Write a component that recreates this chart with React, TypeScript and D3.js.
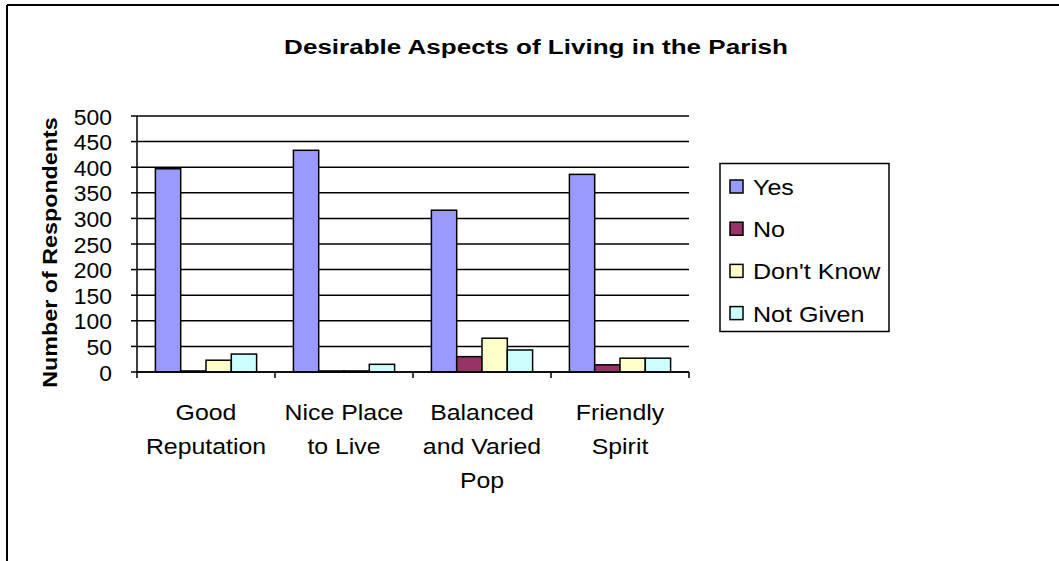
import React from "react";
import * as d3 from "d3";

const categories: string[][] = [
  ["Good", "Reputation"],
  ["Nice Place", "to Live"],
  ["Balanced", "and Varied", "Pop"],
  ["Friendly", "Spirit"],
];
const seriesNames = ["Yes", "No", "Don't Know", "Not Given"];
const yesValues = [397, 433, 316, 386];
const noValues = [2, 2, 30, 14];
const dontKnowValues = [23, 2, 66, 27];
const notGivenValues = [35, 15, 43, 27];
const yTicks = [0, 50, 100, 150, 200, 250, 300, 350, 400, 450, 500];
const seriesColors = ["#9999FF", "#993366", "#FFFFCC", "#CCFFFF"];

const title = "Desirable Aspects of Living in the Parish";
const yTitle = "Number of Respondents";

const W = 1059;
const H = 561;
const FONT = "'Liberation Sans', Arial, sans-serif";

function SText(props: {
  x: number;
  y: number;
  sx: number;
  anchor?: string;
  size: number;
  bold?: boolean;
  rotate?: number;
  children: React.ReactNode;
}) {
  const { x, y, sx, anchor = "start", size, bold, rotate = 0, children } = props;
  return (
    <g transform={`translate(${x},${y}) rotate(${rotate}) scale(${sx},1)`}>
      <text x={0} y={0} textAnchor={anchor} fontSize={size} fontWeight={bold ? "bold" : "normal"}>
        {children}
      </text>
    </g>
  );
}

export default function App() {
  const series = [yesValues, noValues, dontKnowValues, notGivenValues];
  const plotLeft = 137;
  const plotRight = 689;
  const plotTop = 116;
  const plotBottom = 372;

  const catKeys = categories.map((_, i) => String(i));
  const x0 = d3.scaleBand<string>().domain(catKeys).range([plotLeft, plotRight]).paddingInner(0).paddingOuter(0);
  const x1 = d3
    .scaleBand<string>()
    .domain(seriesNames)
    .range([0, x0.bandwidth()])
    .paddingInner(0)
    .paddingOuter(0.727);
  const y = d3.scaleLinear().domain([0, 500]).range([plotBottom, plotTop]);

  const boundaries = [...catKeys.map((k) => x0(k)!), plotRight];

  return (
    <svg
      width={W}
      height={H}
      style={{ position: "absolute", left: 0, top: 0, background: "#fff" }}
      fontFamily={FONT}
    >
      <rect x={0} y={0} width={W} height={H} fill="#fff" />
      {/* outer border */}
      <line x1={7} y1={5} x2={W} y2={5} stroke="#000" strokeWidth={2} />
      <line x1={7} y1={5} x2={7} y2={H} stroke="#000" strokeWidth={2} />

      {/* title */}
      <SText x={536} y={54} sx={1.24} anchor="middle" size={21} bold>
        {title}
      </SText>

      {/* gridlines */}
      {yTicks.map((t) => (
        <line key={"g" + t} x1={plotLeft} x2={plotRight} y1={y(t)} y2={y(t)} stroke="#000" strokeWidth={1.5} />
      ))}

      {/* bars */}
      {catKeys.map((k, ci) => (
        <g key={"c" + k} transform={`translate(${x0(k)},0)`}>
          {seriesNames.map((s, si) => {
            const v = series[si][ci];
            return (
              <rect
                key={s}
                x={x1(s)!}
                y={y(v)}
                width={x1.bandwidth()}
                height={plotBottom - y(v)}
                fill={seriesColors[si]}
                stroke="#000"
                strokeWidth={1.5}
              />
            );
          })}
        </g>
      ))}

      {/* y axis */}
      <line x1={plotLeft} x2={plotLeft} y1={plotTop} y2={plotBottom} stroke="#000" strokeWidth={1.5} />
      {yTicks.map((t) => (
        <g key={"t" + t}>
          <line x1={plotLeft - 6} x2={plotLeft} y1={y(t)} y2={y(t)} stroke="#000" strokeWidth={1.5} />
          <SText x={112} y={y(t) + 8.5} sx={1.04} anchor="end" size={22}>
            {t}
          </SText>
        </g>
      ))}

      {/* x axis */}
      <line x1={plotLeft} x2={plotRight} y1={plotBottom} y2={plotBottom} stroke="#000" strokeWidth={1.5} />
      {boundaries.map((b, i) => (
        <line key={"xt" + i} x1={b} x2={b} y1={plotBottom} y2={plotBottom + 6} stroke="#000" strokeWidth={1.5} />
      ))}
      {catKeys.map((k, ci) =>
        categories[ci].map((line, li) => (
          <SText
            key={"cl" + k + "-" + li}
            x={x0(k)! + x0.bandwidth() / 2}
            y={plotBottom + 48 + li * 34}
            sx={1.13}
            anchor="middle"
            size={22}
          >
            {line}
          </SText>
        ))
      )}

      {/* y title */}
      <SText x={57} y={252.5} sx={1.11} anchor="middle" size={21} bold rotate={-90}>
        {yTitle}
      </SText>

      {/* legend */}
      <rect x={720} y={163.5} width={169} height={168} fill="#fff" stroke="#000" strokeWidth={1.5} />
      {seriesNames.map((s, si) => {
        const base = 195 + si * 42.2;
        return (
          <g key={"l" + s}>
            <rect x={730} y={base - 15} width={13} height={13} fill={seriesColors[si]} stroke="#000" strokeWidth={1.5} />
            <SText x={753} y={base} sx={1.14} size={22}>
              {s}
            </SText>
          </g>
        );
      })}
    </svg>
  );
}
